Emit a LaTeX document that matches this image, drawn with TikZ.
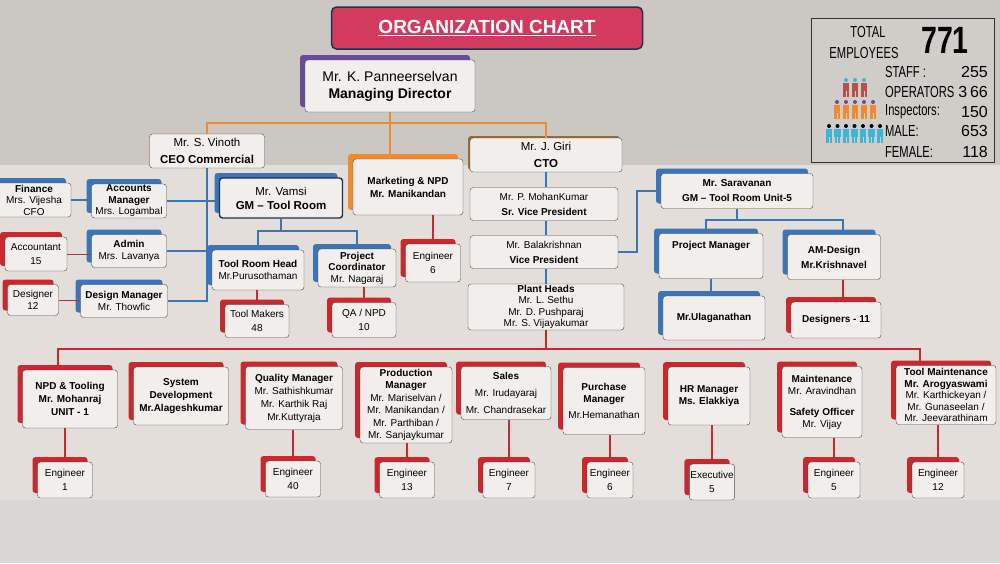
\documentclass[tikz,border=0pt]{standalone}
\usepackage{fontspec}
\setmainfont{Liberation Sans}
\usetikzlibrary{shadows,calc}
\definecolor{bgtop}{HTML}{CBC8C3}
\definecolor{bgmid}{HTML}{E3DEDA}
\definecolor{bgbot}{HTML}{D9D7D4}
\definecolor{ttl}{HTML}{D23A5E}
\definecolor{navy}{HTML}{1F3350}
\definecolor{blu}{HTML}{3C74B8}
\definecolor{rdd}{HTML}{C8282E}
\definecolor{org}{HTML}{F08A2C}
\definecolor{pur}{HTML}{6B4A9A}
\definecolor{brn}{HTML}{9A6A3A}
\definecolor{boxf}{HTML}{F1EEEC}
\definecolor{cya}{HTML}{3DB5D8}
\definecolor{rbr}{HTML}{B85050}
\begin{document}
\begin{tikzpicture}[x=1pt,y=-1pt,
  box/.style={draw=gray!60!black, rounded corners=3pt, fill=boxf, align=center,
     font=\fontsize{10}{11.5}\selectfont, inner sep=1pt},
  sz/.style 2 args={minimum width=#1pt, minimum height=#2pt},
  sh/.style={copy shadow={shadow xshift=-5pt, shadow yshift=5pt, fill=#1, draw=none}},
  shs/.style={copy shadow={shadow xshift=-2pt, shadow yshift=2pt, fill=#1, draw=none}},
  bl/.style={draw=blu, line width=2pt},
  rd/.style={draw=rdd, line width=2pt},
  orl/.style={draw=org, line width=2pt},
  sttxt/.style={font=\fontsize{16}{16}\selectfont, xscale=0.7, inner sep=0pt},
  pers/.pic={\fill[#1] (-3.2,3) rectangle (3.2,11); \fill[#1] (-2.8,11) rectangle (-0.5,17); \fill[#1] (0.5,11) rectangle (2.8,17);}
  ]
\useasboundingbox (0,0) rectangle (1000,563);
\fill[bgtop] (0,0) rectangle (1000,165);
\fill[bgmid] (0,165) rectangle (1000,500);
\fill[bgbot] (0,500) rectangle (1000,563);

% title
\node[draw=navy, line width=1.5pt, fill=ttl, rounded corners=5pt, minimum width=311pt, minimum height=42pt,
  text=white, font=\fontsize{19}{20}\selectfont\bfseries] (title) at (487,28) {\underline{ORGANIZATION CHART}};

% stats
\node[draw=black!80, fill=bgtop!90!white, minimum width=183pt, minimum height=144pt, line width=0.8pt] (stat) at (903,90) {};
\node[sttxt] (tot) at (868,32) {TOTAL};
\node[sttxt] (emp) at (864,53) {EMPLOYEES};
\node[font=\fontsize{38}{38}\selectfont\bfseries, xscale=0.75, inner sep=0pt] (num) at (945,40) {771};
\foreach \t/\n/\yy in {STAFF :/255/72, OPERATORS/3\,66/92, Inspectors:/150/112, MALE:/653/131, FEMALE:/118/152}{
  \node[sttxt, anchor=west] at (885,\yy) {\t};
  \node[font=\fontsize{16}{16}\selectfont, anchor=east, inner sep=0pt] at (988,\yy) {\n};
}
\foreach \i in {0,1,2} \pic at (846+\i*9,80) {pers={rbr}};
\foreach \i in {0,1,2} \fill[cya] (846+\i*9,80) circle (2);
\foreach \i in {0,...,4} \pic at (837+\i*9,102) {pers={org}};
\foreach \i in {0,...,4} \fill[pur] (837+\i*9,102) circle (2);
\foreach \i in {0,...,6} \pic at (829+\i*8.5,126) {pers={cya}};
\foreach \i in {0,...,6} \fill[black] (829+\i*8.5,126) circle (2);

% top level
\node[box, sz={170}{52}, sh=pur, font=\fontsize{14}{17}\selectfont] (md) at (390,86) {Mr. K. Panneerselvan\\\textbf{Managing Director}};
\node[box, sz={115}{34}, shs=brn!40, font=\fontsize{11.5}{17}\selectfont] (vin) at (207,151) {Mr. S. Vinoth\\\textbf{CEO Commercial}};
\node[box, sz={152}{34}, shs=brn, font=\fontsize{11.5}{17}\selectfont] (giri) at (546,155) {Mr. J. Giri\\\textbf{CTO}};
\node[box, sz={110}{56}, sh=org, font=\fontsize{10}{13}\selectfont\bfseries] (mkt) at (408,187) {Marketing \& NPD\\Mr. Manikandan};
\node[box, sz={55}{38}, sh=rdd] (e0) at (433,263) {Engineer\\[3pt]6};

\draw[orl] (md.south) -- ++(0,11) coordinate (j1);
\draw[orl] (vin.north) |- (j1) -| (giri.north);
\draw[orl] (j1) -- (mkt.north -| j1);
\draw[rd] (e0.north) -- (e0.north |- mkt.south);

% left branch
\node[box, sz={74}{34}, sh=blu] (fin) at (34,200) {\textbf{Finance}\\Mrs. Vijesha\\CFO};
\node[box, sz={75}{33}, sh=blu] (acc) at (129,201) {\textbf{Accounts}\\\textbf{Manager}\\Mrs. Logambal};
\node[box, sz={75}{33}, sh=blu] (adm) at (129,251) {\textbf{Admin}\\Mrs. Lavanya};
\node[box, sz={62}{34}, sh=rdd] (acct) at (36,254) {Accountant\\[3pt]15};
\node[box, sz={87}{33}, sh=blu] (dm) at (124,301) {\textbf{Design Manager}\\Mr. Thowfic};
\node[box, sz={51}{31}, sh=rdd] (des) at (33,300) {Designer\\12};
\node[box, sz={123}{40}, draw=navy, line width=1.4pt, sh=blu, font=\fontsize{11.5}{14}\selectfont] (vam) at (281,198) {Mr. Vamsi\\\textbf{GM -- Tool Room}};
\draw[bl] (vin.south) -- (vin.south |- dm.east) -- (dm.east);
\draw[bl] (acc.east) -- (acc.east -| vam.west);
\draw[bl] (adm.east) -- (adm.east -| vin.south);
\draw[bl] (fin.east) -- (fin.east -| acc.west);
\draw[rdd, line width=1pt] (acct.east) -- (acct.east -| adm.west);
\draw[rdd, line width=1pt] (des.east) -- (des.east -| dm.west);

\node[box, sz={92}{40}, sh=blu] (trh) at (258,270) {\textbf{Tool Room Head}\\Mr.Purusothaman};
\node[box, sz={78}{38}, sh=blu] (pc) at (357,268) {\textbf{Project}\\\textbf{Coordinator}\\Mr. Nagaraj};
\node[box, sz={64}{33}, sh=rdd] (tm) at (257,321) {Tool Makers\\[3pt]48};
\node[box, sz={64}{35}, sh=rdd] (qa) at (364,320) {QA / NPD\\[3pt]10};
\draw[bl] (vam.south) -- ++(0,12) coordinate (j2);
\draw[bl] (trh.north) |- (j2) -| (pc.north);
\draw[rd] (tm.north) -- (tm.north |- trh.south);
\draw[rd] (qa.north) -- (qa.north |- pc.south);

% CTO column
\node[box, sz={148}{33}, font=\fontsize{10}{15}\selectfont] (mk) at (544,204) {Mr. P. MohanKumar\\\textbf{Sr. Vice President}};
\node[box, sz={148}{33}, font=\fontsize{10}{15}\selectfont] (bk) at (544,252) {Mr. Balakrishnan\\\textbf{Vice President}};
\node[box, sz={156}{46}] (ph) at (546,307) {\textbf{Plant Heads}\\Mr. L. Sethu\\Mr. D. Pushparaj\\Mr. S. Vijayakumar};
\draw[bl] (giri.south) -- (mk.north -| giri.south);
\draw[bl] (mk.south -| giri.south) -- (bk.north -| giri.south);
\draw[bl] (bk.south -| giri.south) -- (ph.north -| giri.south);

\node[box, sz={152}{35}, sh=blu, font=\fontsize{10}{15}\selectfont\bfseries] (sar) at (737,191) {Mr. Saravanan\\GM -- Tool Room Unit-5};
\draw[bl] (bk.east) -- ++(19,0) coordinate (j3) |- (sar.west);
\node[box, sz={104}{45}, sh=blu, font=\fontsize{10}{11}\selectfont\bfseries] (pm) at (711,256) {Project Manager\\[12pt]\phantom{x}};
\node[box, sz={102}{44}, sh=blu, font=\fontsize{10}{11}\selectfont\bfseries] (ula) at (714,318) {Mr.Ulaganathan};
\node[box, sz={93}{45}, sh=blu, font=\fontsize{10}{15}\selectfont\bfseries] (amd) at (834,257) {AM-Design\\Mr.Krishnavel};
\node[box, sz={90}{36}, sh=rdd, font=\fontsize{10}{11}\selectfont\bfseries] (dsn) at (836,320) {Designers - 11};
\draw[bl] (sar.south) -- ++(0,11) coordinate (j4);
\draw[bl] (pm.north) ++(-5,0) |- (j4) -| ($(amd.north)+(9,0)$);
\draw[bl] (pm.south) -- (pm.south |- ula.north);
\draw[rd] ($(dsn.north)+(7,0)$) -- ($(amd.south)+(9,0)$);

% bottom row
\draw[rd] (ph.south) -- ++(0,19) coordinate (bus);
\begin{scope}[every node/.append style={box, sh=rdd}]
\node[sz={95}{58}, font=\fontsize{10}{13}\selectfont\bfseries] (b1) at (70,399) {NPD \& Tooling\\Mr. Mohanraj\\UNIT - 1};
\node[sz={95}{58}, font=\fontsize{10}{13}\selectfont\bfseries] (b2) at (181,396) {System\\Development\\Mr.Alageshkumar};
\node[sz={97}{63}, font=\fontsize{10}{13}\selectfont] (b3) at (294,398) {\textbf{Quality Manager}\\Mr. Sathishkumar\\Mr. Karthik Raj\\Mr.Kuttyraja};
\node[sz={92}{76}, font=\fontsize{10}{12.5}\selectfont] (b4) at (406,405) {\textbf{Production}\\\textbf{Manager}\\Mr. Mariselvan /\\Mr. Manikandan /\\Mr. Parthiban /\\Mr. Sanjaykumar};
\node[sz={90}{53}, font=\fontsize{10}{17}\selectfont] (b5) at (506,393) {\textbf{Sales}\\Mr. Irudayaraj\\Mr. Chandrasekar};
\node[sz={82}{67}, font=\fontsize{10}{12}\selectfont] (b6) at (604,401) {\textbf{Purchase}\\\textbf{Manager}\\[4pt]Mr.Hemanathan};
\node[sz={82}{58}, font=\fontsize{10}{12}\selectfont\bfseries] (b7) at (709,396) {HR Manager\\Ms. Elakkiya};
\node[sz={80}{71}, font=\fontsize{10}{12}\selectfont] (b8) at (822,402) {\textbf{Maintenance}\\Mr. Aravindhan\\[9pt]\textbf{Safety Officer}\\Mr. Vijay};
\node[sz={100}{59}, font=\fontsize{10}{11.5}\selectfont] (b9) at (946,395) {\textbf{Tool Maintenance}\\\textbf{Mr. Arogyaswami}\\Mr. Karthickeyan /\\Mr. Gunaseelan /\\Mr. Jeevarathinam};
\node[sz={55}{36}] (e1) at (65,480) {Engineer\\[3pt]1};
\node[sz={55}{36}] (e3) at (293,479) {Engineer\\[3pt]40};
\node[sz={55}{36}] (e4) at (407,480) {Engineer\\[3pt]13};
\node[sz={52}{36}] (e5) at (509,480) {Engineer\\[3pt]7};
\node[sz={46}{36}] (e6) at (610,480) {Engineer\\[3pt]6};
\node[sz={42}{36}] (e7) at (712,482) {Executive\\[3pt]5};
\node[sz={52}{36}] (e8) at (834,480) {Engineer\\[3pt]5};
\node[sz={52}{36}] (e9) at (938,480) {Engineer\\[3pt]12};
\end{scope}
\draw[rd] ($(b1.north)+(-12,0)$) |- (bus) -| ($(b9.north)+(-26,0)$);
\foreach \b/\dx in {b2/0,b3/0,b4/0,b5/3,b6/-6,b7/-10,b8/-10}{
  \draw[rd] ($(\b.north)+(\dx,0)$) -- ($(\b.north)+(\dx,0)$ |- bus);
}
\foreach \e/\b in {e1/b1,e3/b3,e4/b4,e5/b5,e6/b6,e7/b7,e8/b8,e9/b9}{
  \draw[rd] (\e.north) -- (\e.north |- \b.south);
}
\end{tikzpicture}
\end{document}
